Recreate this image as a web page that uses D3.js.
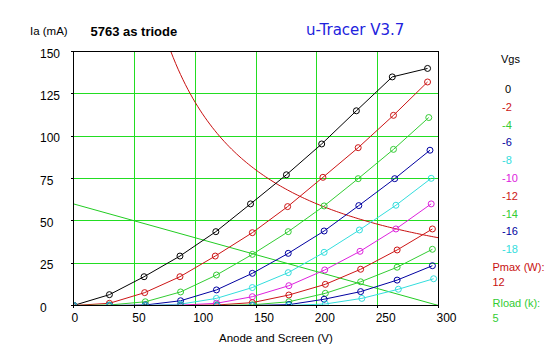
<!DOCTYPE html>
<html><head><meta charset="utf-8">
<script src="https://cdn.jsdelivr.net/npm/d3@7"></script>
<style>body{margin:0;background:#fff;}svg text{font-family:"Liberation Sans",Arial,sans-serif;}</style>
</head><body>
<svg id="c" width="547" height="357"></svg>
<script>
// ---- data ----
const gridVoltages = ["0","-2","-4","-6","-8","-10","-12","-14","-16","-18"];
const seriesColors = ["#000000","#cc1515","#33cc33","#0000a0","#33dddd","#dd22dd","#cc1515","#33cc33","#0000a0","#33dddd"];
const va0  = [0,29.5,58,87.5,117,145.5,175,204,232.5,262,291];
const ia0  = [0,6.4,17,29.2,43.6,60,77.2,95.4,115,135,140];
const va2  = [0,29.5,58.5,87.5,116.5,147,176,205,234,263,291];
const ia2  = [0,1.3,7.6,17,29.2,43,58.4,75.7,93.2,112.3,132];
const va4  = [0,29.5,59,88,117.5,147,176.5,206,234,263,292];
const ia4  = [0,0.3,2.2,8,18,30.2,43.6,58.8,74.9,92.2,111];
const va6  = [0,29.5,59,88,117.5,147,176.5,206,234.5,264,293];
const ia6  = [0,0,0.3,2.8,9.2,19,30.8,44,59,74.9,91.7];
const va8  = [0,29.5,59,88,117.5,147,176.5,206,235,265,294];
const ia8  = [0,0,0,0.8,4.2,10.6,19.4,31.4,44.6,59.2,75.1];
const va10 = [0,29.5,59,88,117.5,147,177,206.5,235.5,265,294];
const ia10 = [0,0,0,0.2,1.3,5.2,11.7,21,32,45.2,60];
const va12 = [0,29.5,59,88,118,147,177,207,236,266,295];
const ia12 = [0,0,0,0,0.3,1.7,6.2,12.5,21.4,32.8,45.2];
const va14 = [0,29.5,59,88,118,147,177,207,236,266,295];
const ia14 = [0,0,0,0,0,0.4,2.2,7.2,14,22.6,33.2];
const va16 = [0,29.5,59,88,118,147,177,206,236,266,295];
const ia16 = [0,0,0,0,0,0,0.5,3.7,8.2,15,23.5];
const va18 = [0,29.5,59,88,118,147,177,207,237,267,296];
const ia18 = [0,0,0,0,0,0,0,0.9,4.2,9.6,15.8];
const xTicks = [0,50,100,150,200,250,300];
const yTicks = [0,25,50,75,100,125,150];
const pmaxW = 12;
const rloadK = 5;
const loadVmax = 300;

const vaAll = [va0,va2,va4,va6,va8,va10,va12,va14,va16,va18];
const iaAll = [ia0,ia2,ia4,ia6,ia8,ia10,ia12,ia14,ia16,ia18];

// ---- layout ----
const svg = d3.select("#c");
const x = d3.scaleLinear().domain([0,300]).range([73.5,438.5]);
const y = d3.scaleLinear().domain([0,150]).range([305.5,51.5]);

svg.append("defs").append("clipPath").attr("id","pa").append("rect")
  .attr("x",x(0)).attr("y",y(150)).attr("width",x(300)-x(0)).attr("height",y(0)-y(150));

const grid = svg.append("g").attr("shape-rendering","crispEdges").attr("stroke","#22dd22");
xTicks.filter(t=>t>0&&t<300).forEach(t=>grid.append("line").attr("x1",x(t)).attr("x2",x(t)).attr("y1",y(0)).attr("y2",y(150)));
yTicks.filter(t=>t>0&&t<150).forEach(t=>grid.append("line").attr("x1",x(0)).attr("x2",x(300)).attr("y1",y(t)).attr("y2",y(t)));

const plot = svg.append("g").attr("clip-path","url(#pa)");
// Pmax hyperbola
const pv = d3.range(60,301,2);
plot.append("path").attr("fill","none").attr("stroke","#c81010").attr("stroke-width",1)
  .attr("d", d3.line().x(v=>x(v)).y(v=>y(pmaxW*1000/v))(pv));
// load line
plot.append("path").attr("fill","none").attr("stroke","#22cc22").attr("stroke-width",1)
  .attr("d", d3.line().x(d=>x(d[0])).y(d=>y(d[1]))([[0,loadVmax/rloadK],[loadVmax,0]]));

// curves
vaAll.forEach((va,i)=>{
  const pts = va.map((v,j)=>[v,iaAll[i][j]]);
  const g = plot.append("g");
  g.append("path").attr("fill","none").attr("stroke",seriesColors[i]).attr("stroke-width",1)
    .attr("d", d3.line().x(d=>x(d[0])).y(d=>y(d[1]))(pts));
  g.selectAll("circle").data(pts).join("circle")
    .attr("cx",d=>x(d[0])).attr("cy",d=>y(d[1])).attr("r",3)
    .attr("fill","none").attr("stroke",seriesColors[i]).attr("stroke-width",1);
});

// frame
svg.append("rect").attr("x",x(0)).attr("y",y(150)).attr("width",x(300)-x(0)).attr("height",y(0)-y(150))
  .attr("fill","none").attr("stroke","#000").attr("shape-rendering","crispEdges");

// y axis ticks & labels
const ya = svg.append("g");
yTicks.forEach(t=>{
  ya.append("line").attr("x1",x(0)-3).attr("x2",x(0)).attr("y1",y(t)).attr("y2",y(t)).attr("stroke","#000").attr("shape-rendering","crispEdges");
  ya.append("text").attr("x",40).attr("y",y(t)+6).attr("font-size",12).attr("fill","#000").text(t);
});
// x axis ticks & labels
xTicks.forEach(t=>{
  svg.append("line").attr("x1",x(t)).attr("x2",x(t)).attr("y1",y(0)).attr("y2",y(0)+2).attr("stroke","#000").attr("shape-rendering","crispEdges");
  svg.append("text").attr("x",x(t)-2).attr("y",y(0)+16).attr("font-size",12).attr("fill","#000").text(t);
});

svg.append("text").attr("x",219).attr("y",342).attr("font-size",11.5).text("Anode and Screen (V)");
svg.append("text").attr("x",30).attr("y",35).attr("font-size",11.5).text("Ia (mA)");
svg.append("text").attr("x",90.5).attr("y",36).attr("font-size",13).attr("font-weight","bold").text("5763 as triode");
svg.append("text").attr("x",306).attr("y",35).attr("font-size",15).attr("fill","#2222dd")
  .style("font-family","'Comic Sans MS','DejaVu Sans',sans-serif").text("u-Tracer V3.7");

// legend
svg.append("text").attr("x",501).attr("y",63).attr("font-size",11).text("Vgs");
gridVoltages.forEach((g,i)=>{
  svg.append("text").attr("x", g==="0"?505:502).attr("y",93+i*17.8).attr("font-size",11)
    .attr("fill",seriesColors[i]).text(g);
});
svg.append("text").attr("x",492.5).attr("y",271).attr("font-size",11).attr("fill","#c81010").text("Pmax (W):");
svg.append("text").attr("x",492.5).attr("y",286).attr("font-size",11).attr("fill","#c81010").text(pmaxW);
svg.append("text").attr("x",492.5).attr("y",307).attr("font-size",11).attr("fill","#33cc33").text("Rload (k):");
svg.append("text").attr("x",492.5).attr("y",322).attr("font-size",11).attr("fill","#33cc33").text(rloadK);
</script>
</body></html>
